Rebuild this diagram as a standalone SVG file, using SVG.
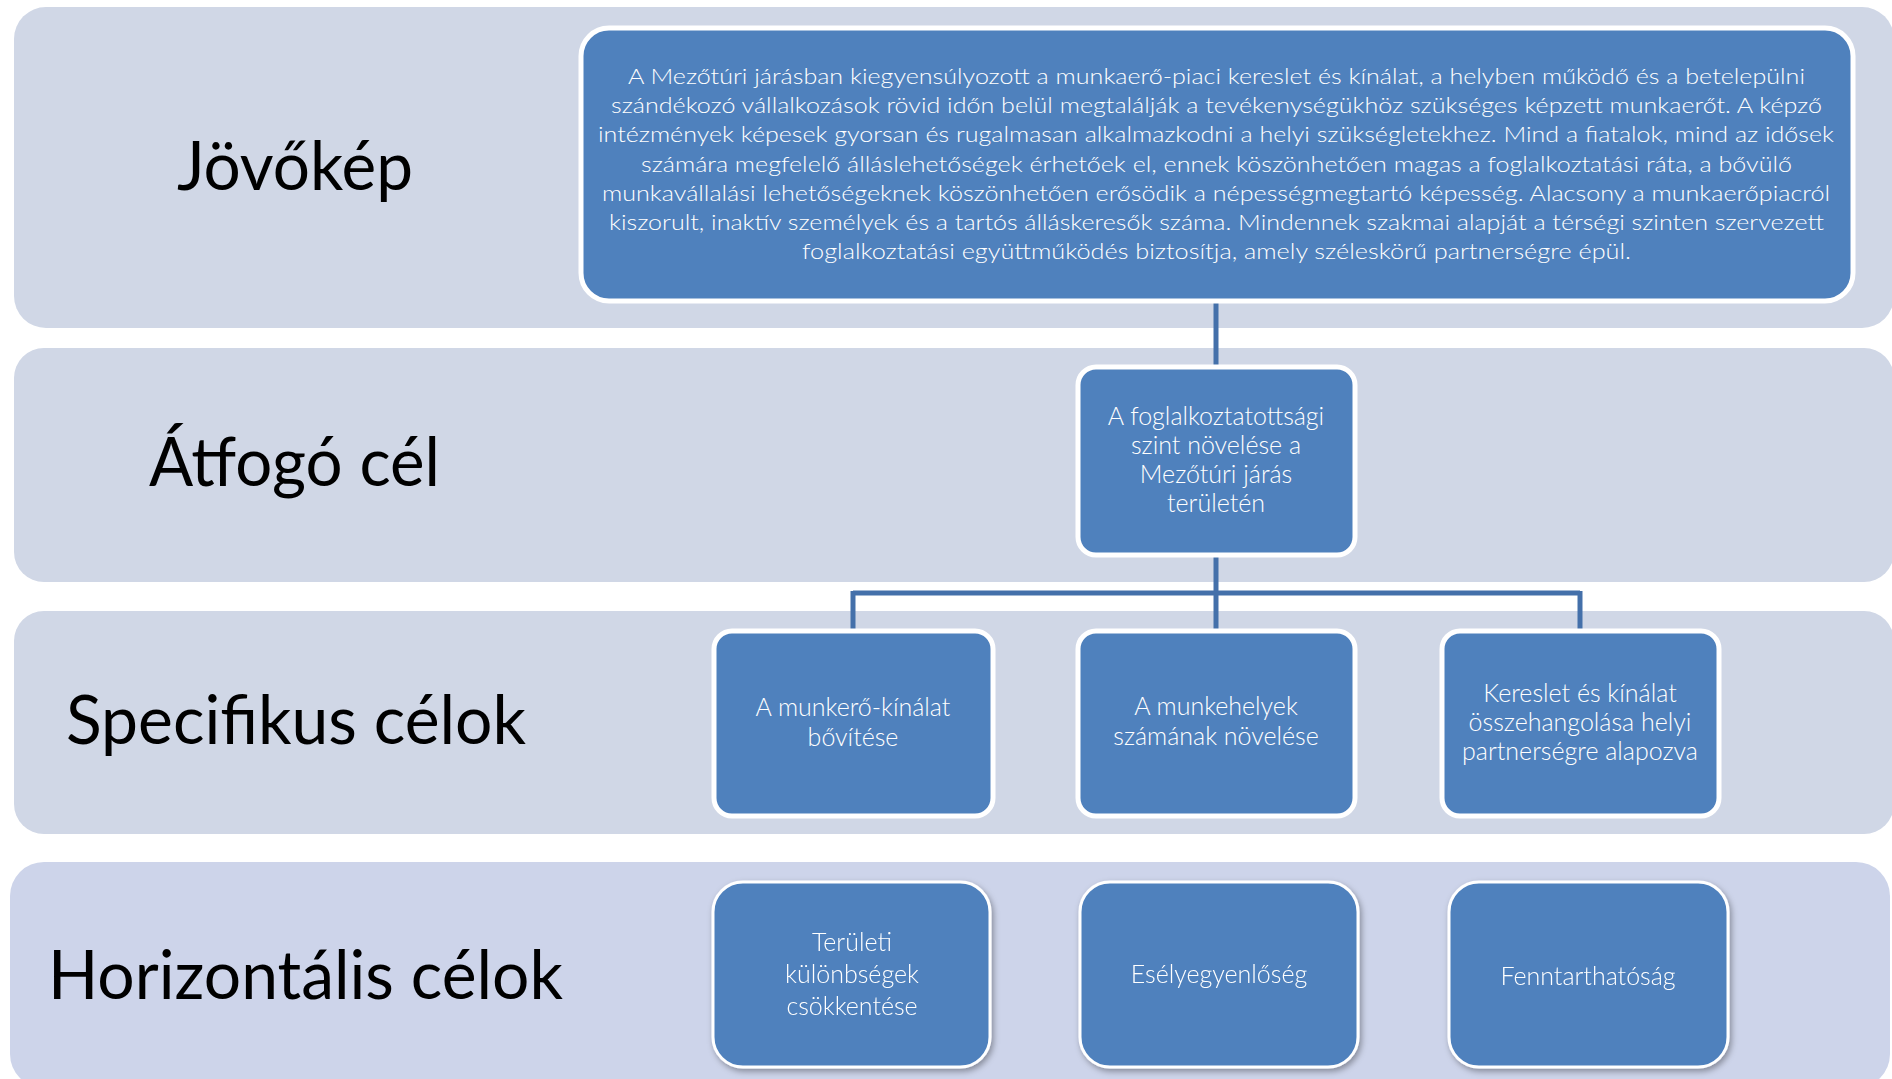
<svg xmlns="http://www.w3.org/2000/svg" width="1892" height="1079" viewBox="0 0 1892 1079">
<style>
.band{fill:#D0D7E6}
.band4{fill:#CDD4EA}
.lbl{font-family:Lato,"Liberation Sans",Arial,sans-serif;font-size:68px;fill:#000}
.box{fill:#4F81BD;stroke:#FFFFFF;stroke-width:5}
.hbox{fill:#4F81BD;stroke:#FFFFFF;stroke-width:3}
.t{font-family:Lato,"Liberation Sans",Arial,sans-serif;font-weight:300;font-size:25px;fill:#FFFFFF;text-anchor:middle}
.vt{font-family:Lato,"Liberation Sans",Arial,sans-serif;font-weight:300;font-size:22px;fill:#FFFFFF}
.conn{fill:none;stroke:#4470AA;stroke-width:5}
</style>
<defs>
<filter id="sh" x="-10%" y="-10%" width="130%" height="130%">
<feDropShadow dx="2" dy="3" stdDeviation="3" flood-color="#000" flood-opacity="0.35"/>
</filter>
</defs>
<g id="bands">
<rect class="band" x="14" y="7" width="1880" height="321" rx="32"/>
<rect class="band" x="14" y="348" width="1880" height="234" rx="30"/>
<rect class="band" x="14" y="611" width="1880" height="223" rx="30"/>
<rect class="band4" x="10" y="862" width="1880" height="226" rx="34"/>
</g>
<g id="labels">
<text class="lbl" x="177" y="190" textLength="236" lengthAdjust="spacingAndGlyphs">Jövőkép</text>
<text class="lbl" x="149" y="486" textLength="291" lengthAdjust="spacingAndGlyphs">Átfogó cél</text>
<text class="lbl" x="66" y="744" textLength="460" lengthAdjust="spacingAndGlyphs">Specifikus célok</text>
<text class="lbl" x="48" y="999" textLength="515" lengthAdjust="spacingAndGlyphs">Horizontális célok</text>
</g>
<g id="connectors">
<path class="conn" d="M1216 300 V368"/>
<path class="conn" d="M1216 555 V631"/>
<path class="conn" d="M853 593 H1580"/>
<path class="conn" d="M853 591 V631"/>
<path class="conn" d="M1580 591 V631"/>
</g>
<g id="vision">
<rect class="box" x="581" y="28" width="1272" height="273" rx="28"/>
<text class="vt" x="628" y="84" textLength="1177" lengthAdjust="spacingAndGlyphs">A Mezőtúri járásban kiegyensúlyozott a munkaerő-piaci kereslet és kínálat, a helyben működő és a betelepülni</text>
<text class="vt" x="611" y="113" textLength="1211" lengthAdjust="spacingAndGlyphs">szándékozó vállalkozások rövid időn belül megtalálják a tevékenységükhöz szükséges képzett munkaerőt. A képző</text>
<text class="vt" x="598" y="142" textLength="1236" lengthAdjust="spacingAndGlyphs">intézmények képesek gyorsan és rugalmasan alkalmazkodni a helyi szükségletekhez. Mind a fiatalok, mind az idősek</text>
<text class="vt" x="641" y="172" textLength="1151" lengthAdjust="spacingAndGlyphs">számára megfelelő álláslehetőségek érhetőek el, ennek köszönhetően magas a foglalkoztatási ráta, a bővülő</text>
<text class="vt" x="602" y="201" textLength="1228" lengthAdjust="spacingAndGlyphs">munkavállalási lehetőségeknek köszönhetően erősödik a népességmegtartó képesség. Alacsony a munkaerőpiacról</text>
<text class="vt" x="609" y="230" textLength="1215" lengthAdjust="spacingAndGlyphs">kiszorult, inaktív személyek és a tartós álláskeresők száma. Mindennek szakmai alapját a térségi szinten szervezett</text>
<text class="vt" x="802" y="259" textLength="829" lengthAdjust="spacingAndGlyphs">foglalkoztatási együttműködés biztosítja, amely széleskörű partnerségre épül.</text>
</g>
<g id="overall">
<rect class="box" x="1078" y="367" width="277" height="188" rx="18"/>
<text class="t" x="1216" y="425">A foglalkoztatottsági</text>
<text class="t" x="1216" y="454">szint növelése a</text>
<text class="t" x="1216" y="483">Mezőtúri járás</text>
<text class="t" x="1216" y="512">területén</text>
</g>
<g id="spec1">
<rect class="box" x="714" y="631" width="279" height="185" rx="18"/>
<text class="t" x="853" y="716">A munkerő-kínálat</text>
<text class="t" x="853" y="746">bővítése</text>
</g>
<g id="spec2">
<rect class="box" x="1078" y="631" width="277" height="185" rx="18"/>
<text class="t" x="1216" y="715">A munkehelyek</text>
<text class="t" x="1216" y="745">számának növelése</text>
</g>
<g id="spec3">
<rect class="box" x="1442" y="631" width="277" height="185" rx="18"/>
<text class="t" x="1580" y="702">Kereslet és kínálat</text>
<text class="t" x="1580" y="731">összehangolása helyi</text>
<text class="t" x="1580" y="760">partnerségre alapozva</text>
</g>
<g id="hor1" filter="url(#sh)">
<rect class="hbox" x="713" y="882" width="277" height="185" rx="30"/>
<text class="t" x="852" y="951">Területi</text>
<text class="t" x="852" y="983">különbségek</text>
<text class="t" x="852" y="1015">csökkentése</text>
</g>
<g id="hor2" filter="url(#sh)">
<rect class="hbox" x="1080" y="882" width="278" height="185" rx="30"/>
<text class="t" x="1219" y="983">Esélyegyenlőség</text>
</g>
<g id="hor3" filter="url(#sh)">
<rect class="hbox" x="1449" y="882" width="279" height="185" rx="30"/>
<text class="t" x="1588" y="985">Fenntarthatóság</text>
</g>
</svg>
